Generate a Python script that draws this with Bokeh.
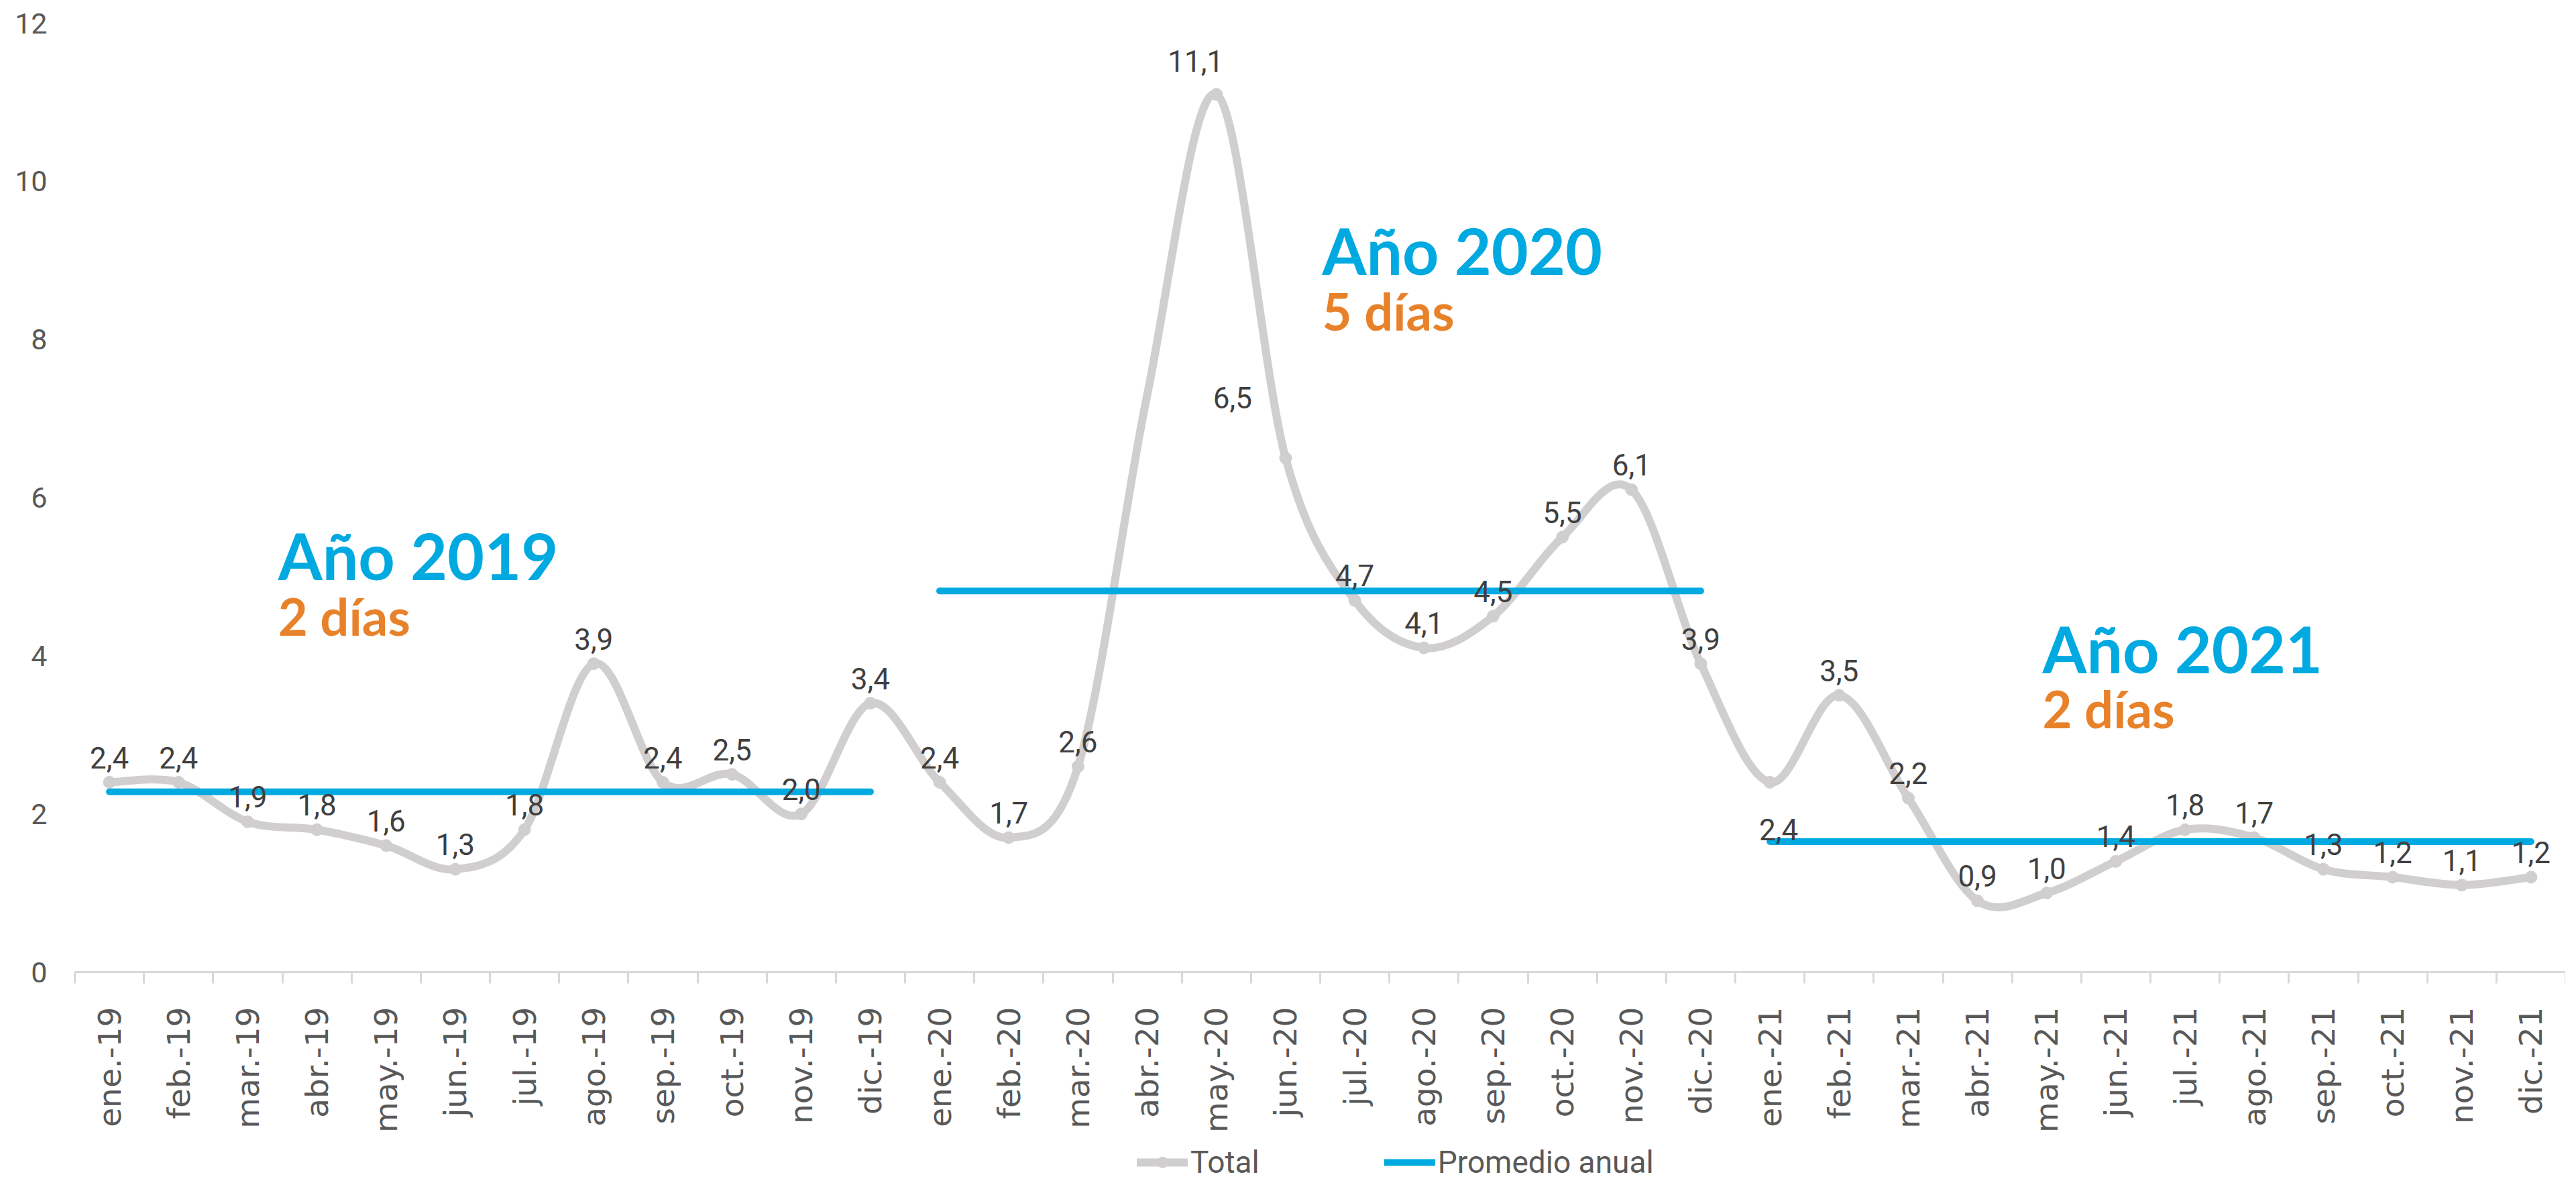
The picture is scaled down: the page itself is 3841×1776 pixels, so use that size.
import math
from bokeh.plotting import figure
from bokeh.layouts import column
from bokeh.models import (Range1d, FixedTicker, Label, Legend, LegendItem,
                          ColumnDataSource)
from bokeh.core.properties import value
from bokeh.embed import file_html
from bokeh.resources import INLINE

# ---------------- data ----------------
months = ["ene.-19", "feb.-19", "mar.-19", "abr.-19", "may.-19", "jun.-19",
          "jul.-19", "ago.-19", "sep.-19", "oct.-19", "nov.-19", "dic.-19",
          "ene.-20", "feb.-20", "mar.-20", "abr.-20", "may.-20", "jun.-20",
          "jul.-20", "ago.-20", "sep.-20", "oct.-20", "nov.-20", "dic.-20",
          "ene.-21", "feb.-21", "mar.-21", "abr.-21", "may.-21", "jun.-21",
          "jul.-21", "ago.-21", "sep.-21", "oct.-21", "nov.-21", "dic.-21"]
total = [2.4, 2.4, 1.9, 1.8, 1.6, 1.3, 1.8, 3.9, 2.4, 2.5, 2.0, 3.4,
         2.4, 1.7, 2.6, 7.3, 11.1, 6.5, 4.7, 4.1, 4.5, 5.5, 6.1, 3.9,
         2.4, 3.5, 2.2, 0.9, 1.0, 1.4, 1.8, 1.7, 1.3, 1.2, 1.1, 1.2]
# months whose point has no visible label / marker in the reference
unlabeled = ["abr.-20"]

years = ["2019", "2020", "2021"]
year_titles = ["Año 2019", "Año 2020", "Año 2021"]
year_days = ["2 días", "5 días", "2 días"]
year_avg = [2.28, 4.82, 1.65]

y_ticks = [0, 2, 4, 6, 8, 10, 12]
legend_labels = ["Total", "Promedio anual"]

# ---------------- style ----------------
GRAY = "#D0CECE"
BLUE = "#00A9E0"
ORANGE = "#E8822A"
AXIS_GRAY = "#D9D9D9"
TEXT_GRAY = "#595959"
LABEL_DARK = "#404040"

W = 3825
LEG_H = 56
MAIN_H = 1760 - LEG_H
NAN = float("nan")

n = len(months)
xs = [i + 0.5 for i in range(n)]

p = figure(width=W, height=MAIN_H, x_range=Range1d(0, n), y_range=Range1d(0, 12),
           output_backend="svg", toolbar_location=None,
           min_border_left=111, min_border_right=0, min_border_top=34,
           min_border_bottom=MAIN_H - 1449, background_fill_color="white",
           border_fill_color="white")
p.outline_line_color = None
p.xgrid.visible = False
p.ygrid.visible = False

# ---------------- smoothed total line (Catmull-Rom -> Bezier) ----------------
x0s, y0s, x1s, y1s, c0x, c0y, c1x, c1y = [], [], [], [], [], [], [], []
for i in range(n - 1):
    pa = max(i - 1, 0)
    pd = min(i + 2, n - 1)
    xa, ya = xs[pa], total[pa]
    xb, yb = xs[i], total[i]
    xc, yc = xs[i + 1], total[i + 1]
    xd, yd = xs[pd], total[pd]
    x0s.append(xb); y0s.append(yb)
    x1s.append(xc); y1s.append(yc)
    c0x.append(xb + (xc - xa) / 6.0); c0y.append(yb + (yc - ya) / 6.0)
    c1x.append(xc - (xd - xb) / 6.0); c1y.append(yc - (yd - yb) / 6.0)

p.bezier(x0=x0s, y0=y0s, x1=x1s, y1=y1s, cx0=c0x, cy0=c0y, cx1=c1x, cy1=c1y,
         line_color=GRAY, line_width=12, line_cap="round")

mx = [x for x, m in zip(xs, months) if m not in unlabeled]
my = [v for v, m in zip(total, months) if m not in unlabeled]
p.scatter(x=mx, y=my, size=18, marker="circle", fill_color=GRAY, line_color=GRAY)

# ---------------- yearly averages ----------------
for k, yr in enumerate(years):
    ax = [x for x, m in zip(xs, months) if m.endswith(yr[-2:])]
    ay = [year_avg[k]] * len(ax)
    p.line(x=ax, y=ay, line_color=BLUE, line_width=10, line_cap="round")

# ---------------- data labels ----------------
label_offsets = {"may.-20": (-31, -50), "jun.-20": (-79, -90), "ene.-21": (13, 70)}
lx, ly, lt, lxo, lyo = [], [], [], [], []
for x, v, m in zip(xs, total, months):
    if m in unlabeled:
        continue
    lx.append(x); ly.append(v)
    lt.append(f"{v:.1f}".replace(".", ","))
    xo, yo = label_offsets.get(m, (0, -37))
    lxo.append(xo); lyo.append(yo)
src = ColumnDataSource(dict(x=lx, y=ly, t=lt, xo=lxo, yo=lyo))
p.text(x="x", y="y", text="t", x_offset="xo", y_offset="yo", source=src,
       text_align="center", text_baseline="alphabetic",
       text_font=value("Roboto"), text_font_size="44px", text_color=LABEL_DARK)

# ---------------- year annotations ----------------
title_pos = [(2.94, 5.27, 4.50), (18.03, 9.13, 8.36), (28.44, 4.09, 3.33)]
for k in range(3):
    tx, ty1, ty2 = title_pos[k]
    p.add_layout(Label(x=tx, y=ty1, text=year_titles[k], text_font="Lato",
                       text_font_style="bold", text_font_size="95px",
                       text_color=BLUE, text_align="left",
                       text_baseline="alphabetic"))
    p.add_layout(Label(x=tx, y=ty2, text=year_days[k], text_font="Lato",
                       text_font_style="bold", text_font_size="76px",
                       text_color=ORANGE, text_align="left",
                       text_baseline="alphabetic"))

# ---------------- axes ----------------
xa_ = p.xaxis[0]
xa_.ticker = FixedTicker(ticks=xs, minor_ticks=list(range(n + 1)))
xa_.major_label_overrides = {x: m for x, m in zip(xs, months)}
xa_.major_tick_line_color = None
xa_.major_tick_out = 0
xa_.major_tick_in = 0
xa_.minor_tick_out = 17
xa_.minor_tick_in = 0
xa_.minor_tick_line_color = AXIS_GRAY
xa_.minor_tick_line_width = 3
xa_.axis_line_color = AXIS_GRAY
xa_.axis_line_width = 3
xa_.major_label_orientation = math.pi / 2
xa_.major_label_standoff = 35
xa_.major_label_text_font = "DejaVu Sans"
xa_.major_label_text_font_size = "47px"
xa_.major_label_text_color = TEXT_GRAY

ya_ = p.yaxis[0]
ya_.ticker = FixedTicker(ticks=y_ticks)
ya_.axis_line_color = None
ya_.major_tick_line_color = None
ya_.minor_tick_line_color = None
ya_.major_label_standoff = 35
ya_.major_label_text_font = "Roboto"
ya_.major_label_text_font_size = "43px"
ya_.major_label_text_color = TEXT_GRAY

# ---------------- legend (strip below the chart) ----------------
lp = figure(width=W, height=LEG_H, x_range=Range1d(0, 1), y_range=Range1d(0, 1),
            output_backend="svg", toolbar_location=None,
            x_axis_location=None, y_axis_location=None,
            min_border_left=0, min_border_right=0, min_border_top=0,
            min_border_bottom=0, background_fill_color="white",
            border_fill_color="white")
lp.outline_line_color = None
lp.xgrid.visible = False
lp.ygrid.visible = False
lg_line = lp.line(x=[NAN, NAN], y=[NAN, NAN], line_color=GRAY, line_width=12,
                  line_cap="round")
lg_pt = lp.scatter(x=[NAN], y=[NAN], size=18, marker="circle",
                   fill_color=GRAY, line_color=GRAY)
lg_avg = lp.line(x=[NAN, NAN], y=[NAN, NAN], line_color=BLUE, line_width=10,
                 line_cap="round")
legend = Legend(items=[LegendItem(label=legend_labels[0], renderers=[lg_line, lg_pt]),
                       LegendItem(label=legend_labels[1], renderers=[lg_avg])],
                orientation="horizontal", location=(1584, 0),
                glyph_width=76, glyph_height=40, label_height=40,
                label_standoff=4, spacing=186, padding=0, margin=0,
                border_line_color=None, background_fill_alpha=0,
                label_text_font="Roboto", label_text_font_size="46px",
                label_text_color=TEXT_GRAY)
lp.add_layout(legend, "center")

layout = column(p, lp, spacing=0)
open("out.html", "w").write(file_html(layout, INLINE))
